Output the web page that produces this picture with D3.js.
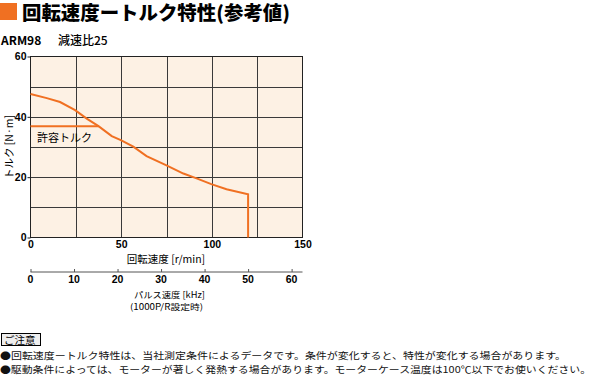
<!DOCTYPE html>
<html>
<head>
<meta charset="utf-8">
<script src="https://cdn.jsdelivr.net/npm/d3@7"></script>
<style>
  body { margin: 0; background: #fff; }
  svg { display: block; font-family: "Noto Sans CJK JP", "Noto Sans", sans-serif; }
</style>
</head>
<body>
<svg id="chart" width="602" height="378"></svg>
<script>
// speed [r/min] vs torque [N·m]
const speed  = [0, 9, 16.3, 24.6, 31, 37.5, 44.8, 49.8, 56.7, 64, 74.7, 84.3, 91.6, 99.7, 108.1, 120, 120];
const torque = [47.6, 46.2, 44.9, 42.2, 39.4, 36.9, 33.6, 32.3, 30.1, 27.0, 24.0, 21.2, 19.6, 17.7, 16.0, 14.3, 0];
const permitSpeed  = [0, 37.5];
const permitTorque = [36.9, 36.9];
const speedTicks = [0, 50, 100, 150];
const torqueTicks = [0, 20, 40, 60];
const pulseTicks = [0, 10, 20, 30, 40, 50, 60];
const noteLines = [
  "●回転速度ートルク特性は、当社測定条件によるデータです。条件が変化すると、特性が変化する場合があります。",
  "●駆動条件によっては、モーターが著しく発熱する場合があります。モーターケース温度は100℃以下でお使いください。"
];
const noteWidths = [566, 591];

const orange = "#f07022";
const svg = d3.select("#chart");

const pL = 30.5, pR = 302.5, pT = 56.5, pB = 237.5;
const x = d3.scaleLinear().domain([0, 150]).range([pL, pR]);
const y = d3.scaleLinear().domain([0, 60]).range([pB, pT]);
// 1000 P/R, gear 25 -> kHz = rpm * 25 * 1000 / 60 / 1000
const xk = d3.scaleLinear().domain([0, 150 * 25 / 60]).range([pL, pR]);

// title
svg.append("rect").attr("x", 0).attr("y", 3).attr("width", 17).attr("height", 17).attr("fill", orange);
svg.append("text").attr("x", 22).attr("y", 19.5)
  .attr("font-size", 19).attr("font-weight", 900)
  .attr("textLength", 268).attr("lengthAdjust", "spacingAndGlyphs")
  .text("回転速度ートルク特性(参考値)");
svg.append("text").attr("x", 1).attr("y", 45)
  .attr("font-size", 12).attr("font-weight", 700)
  .text("ARM98");
svg.append("text").attr("x", 58).attr("y", 45)
  .attr("font-size", 12).attr("font-weight", 500)
  .text("減速比25");

// plot area
svg.append("rect").attr("x", pL).attr("y", pT)
  .attr("width", pR - pL).attr("height", pB - pT)
  .attr("fill", "#fdf1e4");

const grid = svg.append("g").attr("stroke", "#3a3a3a").attr("stroke-width", 1);
grid.selectAll(".gx").data(d3.range(25, 150, 25)).join("line")
  .attr("x1", d => Math.round(x(d)) + 0.5).attr("x2", d => Math.round(x(d)) + 0.5)
  .attr("y1", pT).attr("y2", pB);
grid.selectAll(".gy").data(d3.range(10, 60, 10)).join("line")
  .attr("y1", d => Math.round(y(d)) + 0.5).attr("y2", d => Math.round(y(d)) + 0.5)
  .attr("x1", pL).attr("x2", pR);
svg.append("rect").attr("x", pL).attr("y", pT)
  .attr("width", pR - pL).attr("height", pB - pT)
  .attr("fill", "none").attr("stroke", "#222");

// curves
const line = d3.line().x(d => x(d[0])).y(d => y(d[1]));
svg.append("path").datum(d3.zip(permitSpeed, permitTorque))
  .attr("d", line).attr("fill", "none").attr("stroke", orange).attr("stroke-width", 2);
svg.append("path").datum(d3.zip(speed, torque))
  .attr("d", line).attr("fill", "none").attr("stroke", orange).attr("stroke-width", 2);
svg.append("text").attr("x", 37).attr("y", 142).attr("font-size", 11).text("許容トルク");

// axes
const xAxis = svg.append("g").attr("transform", `translate(0,${pB})`)
  .call(d3.axisBottom(x).tickValues(speedTicks).tickSize(0).tickPadding(3));
const yAxis = svg.append("g").attr("transform", `translate(${pL},0)`)
  .call(d3.axisLeft(y).tickValues(torqueTicks).tickSize(3).tickPadding(1));
[xAxis, yAxis].forEach(a => {
  a.select(".domain").remove();
  a.selectAll("text").attr("font-size", 10.5).attr("fill", "#000")
    .attr("font-family", "Liberation Sans, Arial, sans-serif").attr("font-weight", 700);
  a.selectAll("line").attr("stroke", "#222");
});
svg.append("text").attr("x", 166).attr("y", 263).attr("text-anchor", "middle")
  .attr("font-size", 10.5).text("回転速度 [r/min]");
svg.append("text").attr("transform", "translate(13,147) rotate(-90)")
  .attr("text-anchor", "middle").attr("font-size", 10.5).text("トルク [N·m]");

// pulse axis
const pAxis = svg.append("g").attr("transform", "translate(0,272)")
  .call(d3.axisTop(xk).tickValues(pulseTicks).tickSize(3).tickFormat(""));
pAxis.select(".domain").attr("d", `M${pL},0H${pR}`).attr("stroke", "#555");
pAxis.selectAll("line").attr("stroke", "#555");
svg.append("g").selectAll("text").data(pulseTicks).join("text")
  .attr("x", d => xk(d)).attr("y", 283).attr("text-anchor", "middle")
  .attr("font-size", 10.5).attr("font-weight", 700)
  .attr("font-family", "Liberation Sans, Arial, sans-serif").text(d => d);
svg.append("text").attr("x", 134).attr("y", 297.5)
  .attr("font-size", 8.5).attr("textLength", 71).attr("lengthAdjust", "spacingAndGlyphs")
  .text("パルス速度 [kHz]");
svg.append("text").attr("x", 130).attr("y", 310)
  .attr("font-size", 8.5).attr("textLength", 73).attr("lengthAdjust", "spacingAndGlyphs")
  .text("(1000P/R設定時)");

// notes
svg.append("rect").attr("x", 1.5).attr("y", 333.5).attr("width", 39).attr("height", 12)
  .attr("fill", "#eee").attr("stroke", "#000");
svg.append("text").attr("x", 4).attr("y", 343.5).attr("font-size", 10.5).text("ご注意");
svg.append("g").selectAll("text").data(noteLines).join("text")
  .attr("x", 0).attr("y", (d, i) => 359 + i * 14)
  .attr("font-size", 9.6).attr("fill", "#111")
  .attr("textLength", (d, i) => noteWidths[i]).attr("lengthAdjust", "spacingAndGlyphs")
  .text(d => d);
</script>
</body>
</html>
